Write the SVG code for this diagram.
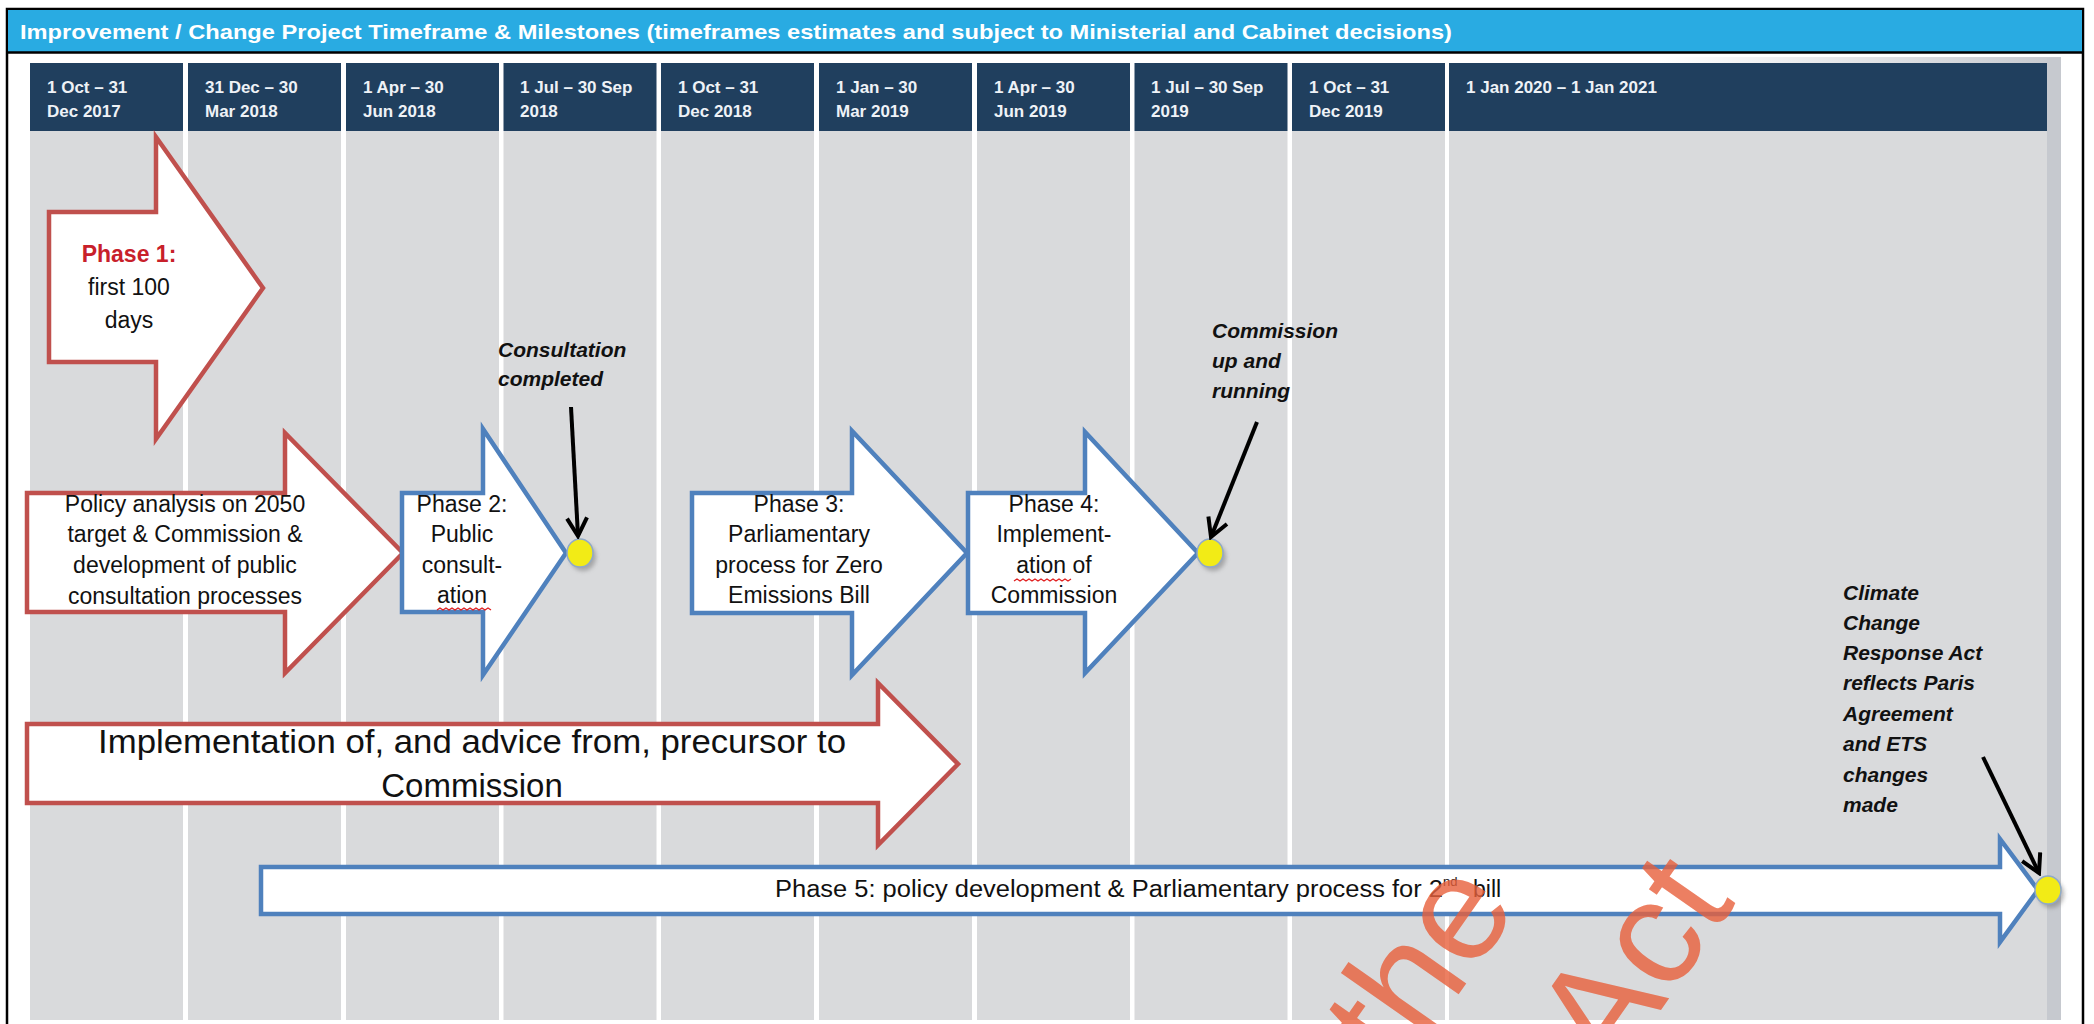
<svg xmlns="http://www.w3.org/2000/svg" width="2094" height="1024" viewBox="0 0 2094 1024">
<defs>
<style>
.hdrtxt{font-family:"Liberation Sans",Arial,sans-serif;font-weight:bold;font-size:21px;fill:#FFFFFF}
.ch{fill:#203F5E}
.cb{fill:#D9DADC}
.ct{font-family:"Liberation Sans",Arial,sans-serif;font-weight:bold;font-size:17px;fill:#EEF2F7}
.lbl{font-family:"Liberation Sans",Arial,sans-serif;font-size:23px;fill:#111111}
.big{font-family:"Liberation Sans",Arial,sans-serif;font-size:33px;fill:#111111}
.note{font-family:"Liberation Sans",Arial,sans-serif;font-weight:bold;font-style:italic;font-size:21px;fill:#111111}
.red{fill:#FFFFFF;stroke:#C0504D;stroke-width:4.5;stroke-linejoin:miter}
.blue{fill:#FFFFFF;stroke:#4F81BD;stroke-width:4.5;stroke-linejoin:miter}
.conn{fill:none;stroke:#000000;stroke-width:4;marker-end:url(#ah)}
.ms{fill:#F2EB16;stroke:#8FA9C9;stroke-width:1.5}
.msh{fill:#7a7a7a;opacity:0.55}
.wavy{fill:none;stroke:#E02020;stroke-width:1.3}
.wm{font-family:"Liberation Sans",Arial,sans-serif;font-size:150px;fill:#E8603C;opacity:0.8}
</style>
<marker id="ah" markerUnits="userSpaceOnUse" viewBox="0 0 24 24" markerWidth="24" markerHeight="24" refX="21" refY="12" orient="auto">
<path d="M3,2 L21,12 L3,22" fill="none" stroke="#000" stroke-width="4"/>
</marker>
<linearGradient id="topsh" x1="0" y1="0" x2="1" y2="0">
<stop offset="0" stop-color="#FFFFFF"/>
<stop offset="1" stop-color="#C6C9CF"/>
</linearGradient>
<filter id="blur" x="-50%" y="-50%" width="200%" height="200%"><feGaussianBlur stdDeviation="2"/></filter>
</defs>

<g id="frame">
<rect x="7" y="9" width="2076" height="1030" fill="#FFFFFF" stroke="#000" stroke-width="2.5"/>
<rect x="8" y="10" width="2074" height="42" fill="#29ABE2"/>
<line x1="7" y1="52.5" x2="2083" y2="52.5" stroke="#000" stroke-width="2.5"/>
<text class="hdrtxt" x="20" y="39" textLength="1432" lengthAdjust="spacingAndGlyphs">Improvement / Change Project Timeframe &amp; Milestones  (timeframes estimates and subject to Ministerial and Cabinet decisions)</text>
<rect x="1660" y="57" width="401" height="6" fill="url(#topsh)"/>
<rect x="2047" y="58" width="14" height="962" fill="#C6C9CF"/>
</g>

<g id="columns">
<rect class="cb" x="30" y="131" width="153" height="889"/>
<rect class="cb" x="188" y="131" width="153" height="889"/>
<rect class="cb" x="346" y="131" width="153" height="889"/>
<rect class="cb" x="503.5" y="131" width="153" height="889"/>
<rect class="cb" x="661" y="131" width="153" height="889"/>
<rect class="cb" x="819" y="131" width="153" height="889"/>
<rect class="cb" x="977" y="131" width="153" height="889"/>
<rect class="cb" x="1134.5" y="131" width="153" height="889"/>
<rect class="cb" x="1292" y="131" width="153" height="889"/>
<rect class="cb" x="1449" y="131" width="598" height="889"/>
<rect class="ch" x="30" y="63" width="153" height="68"/>
<rect class="ch" x="188" y="63" width="153" height="68"/>
<rect class="ch" x="346" y="63" width="153" height="68"/>
<rect class="ch" x="503.5" y="63" width="153" height="68"/>
<rect class="ch" x="661" y="63" width="153" height="68"/>
<rect class="ch" x="819" y="63" width="153" height="68"/>
<rect class="ch" x="977" y="63" width="153" height="68"/>
<rect class="ch" x="1134.5" y="63" width="153" height="68"/>
<rect class="ch" x="1292" y="63" width="153" height="68"/>
<rect class="ch" x="1449" y="63" width="598" height="68"/>
<text class="ct" x="47" y="93">1 Oct – 31</text><text class="ct" x="47" y="117">Dec 2017</text>
<text class="ct" x="205" y="93">31 Dec – 30</text><text class="ct" x="205" y="117">Mar 2018</text>
<text class="ct" x="363" y="93">1 Apr – 30</text><text class="ct" x="363" y="117">Jun 2018</text>
<text class="ct" x="520" y="93">1 Jul – 30 Sep</text><text class="ct" x="520" y="117">2018</text>
<text class="ct" x="678" y="93">1 Oct – 31</text><text class="ct" x="678" y="117">Dec 2018</text>
<text class="ct" x="836" y="93">1 Jan – 30</text><text class="ct" x="836" y="117">Mar 2019</text>
<text class="ct" x="994" y="93">1 Apr – 30</text><text class="ct" x="994" y="117">Jun 2019</text>
<text class="ct" x="1151" y="93">1 Jul – 30 Sep</text><text class="ct" x="1151" y="117">2019</text>
<text class="ct" x="1309" y="93">1 Oct – 31</text><text class="ct" x="1309" y="117">Dec 2019</text>
<text class="ct" x="1466" y="93">1 Jan 2020 – 1 Jan 2021</text>
</g>

<g id="phase1">
<polygon class="red" points="49,212 156,212 156,137 263,288 156,439 156,362 49,362"/>
<text class="lbl" x="129" y="262" text-anchor="middle" font-weight="bold" style="fill:#C8202A">Phase 1:</text>
<text class="lbl" x="129" y="295" text-anchor="middle">first 100</text>
<text class="lbl" x="129" y="328" text-anchor="middle">days</text>
</g>

<g id="policy">
<polygon class="red" points="27,493 285,493 285,433 403,553 285,673 285,612 27,612"/>
<text class="lbl" x="185" y="512" text-anchor="middle">Policy analysis on 2050</text>
<text class="lbl" x="185" y="542" text-anchor="middle">target &amp; Commission &amp;</text>
<text class="lbl" x="185" y="573" text-anchor="middle">development of public</text>
<text class="lbl" x="185" y="604" text-anchor="middle">consultation processes</text>
</g>

<g id="phase2">
<polygon class="blue" points="402,493 483,493 483,429 566,553 483,675 483,612 402,612"/>
<text class="lbl" x="462" y="512" text-anchor="middle">Phase 2:</text>
<text class="lbl" x="462" y="542" text-anchor="middle">Public</text>
<text class="lbl" x="462" y="573" text-anchor="middle">consult-</text>
<text class="lbl" x="462" y="603" text-anchor="middle">ation</text>
<path class="wavy" d="M437,610 l3,-2 l3,2 l3,-2 l3,2 l3,-2 l3,2 l3,-2 l3,2 l3,-2 l3,2 l3,-2 l3,2 l3,-2 l3,2 l3,-2 l3,2 l3,-2 l3,2"/>
</g>

<g id="phase3">
<polygon class="blue" points="692,493 852,493 852,431 967,553 852,675 852,613 692,613"/>
<text class="lbl" x="799" y="512" text-anchor="middle">Phase 3:</text>
<text class="lbl" x="799" y="542" text-anchor="middle">Parliamentary</text>
<text class="lbl" x="799" y="573" text-anchor="middle">process for Zero</text>
<text class="lbl" x="799" y="603" text-anchor="middle">Emissions Bill</text>
</g>

<g id="phase4">
<polygon class="blue" points="968,493 1085,493 1085,432 1198,553 1085,673 1085,613 968,613"/>
<text class="lbl" x="1054" y="512" text-anchor="middle">Phase 4:</text>
<text class="lbl" x="1054" y="542" text-anchor="middle">Implement-</text>
<text class="lbl" x="1054" y="573" text-anchor="middle">ation of</text>
<text class="lbl" x="1054" y="603" text-anchor="middle">Commission</text>
<path class="wavy" d="M1014,581 l3,-2 l3,2 l3,-2 l3,2 l3,-2 l3,2 l3,-2 l3,2 l3,-2 l3,2 l3,-2 l3,2 l3,-2 l3,2 l3,-2 l3,2 l3,-2 l3,2 l3,-2"/>
</g>

<g id="precursor">
<polygon class="red" points="27,724 878,724 878,683 958,764 878,845 878,803 27,803"/>
<text class="big" x="98" y="753" textLength="748" lengthAdjust="spacingAndGlyphs">Implementation of, and advice from, precursor to</text>
<text class="big" x="472" y="797" text-anchor="middle">Commission</text>
</g>

<g id="phase5">
<polygon class="blue" points="261,867 2000,867 2000,839 2038,890 2000,942 2000,914 261,914"/>
<text class="lbl" x="775" y="897" textLength="668" lengthAdjust="spacingAndGlyphs">Phase 5: policy development &amp; Parliamentary process for 2</text>
<text class="lbl" x="1443" y="886" style="font-size:13px">nd</text>
<text class="lbl" x="1473" y="897">bill</text>
</g>

<g id="milestone1">
<ellipse class="msh" cx="583" cy="557" rx="13" ry="14" filter="url(#blur)"/>
<ellipse class="ms" cx="580" cy="553" rx="13" ry="14"/>
<text class="note" x="498" y="357">Consultation</text>
<text class="note" x="498" y="386">completed</text>
</g>

<g id="milestone2">
<ellipse class="msh" cx="1213" cy="557" rx="13" ry="14" filter="url(#blur)"/>
<ellipse class="ms" cx="1210" cy="553" rx="13" ry="14"/>
<text class="note" x="1212" y="338">Commission</text>
<text class="note" x="1212" y="368">up and</text>
<text class="note" x="1212" y="398">running</text>
</g>

<g id="milestone3">
<ellipse class="msh" cx="2051" cy="894" rx="13" ry="14" filter="url(#blur)"/>
<ellipse class="ms" cx="2048" cy="890" rx="13" ry="14"/>
<text class="note" x="1843" y="600">Climate</text>
<text class="note" x="1843" y="630">Change</text>
<text class="note" x="1843" y="660">Response Act</text>
<text class="note" x="1843" y="690">reflects Paris</text>
<text class="note" x="1843" y="721">Agreement</text>
<text class="note" x="1843" y="751">and ETS</text>
<text class="note" x="1843" y="782">changes</text>
<text class="note" x="1843" y="812">made</text>
</g>

<g id="connectors">
<path class="conn" d="M571,407 L578,536"/>
<path class="conn" d="M1257,422 L1211,537"/>
<path class="conn" d="M1983,757 L2039,873"/>
</g>

<g id="watermark">
<text class="wm" transform="translate(1400,1078) rotate(-55)">the</text>
<text class="wm" transform="translate(1612,1080) rotate(-55)">Act</text>
</g>
</svg>
